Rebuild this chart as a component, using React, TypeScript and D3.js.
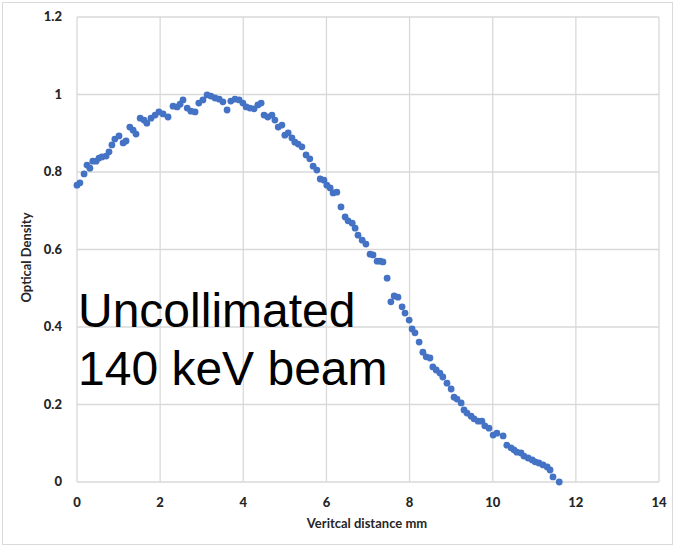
import React from "react";
import * as d3 from "d3";

const xValues = [0.0,0.07,0.17,0.24,0.31,0.38,0.46,0.53,0.60,0.70,0.77,0.84,0.91,1.01,1.11,1.18,1.27,1.35,1.42,1.52,1.61,1.68,1.78,1.88,1.97,2.07,2.19,2.31,2.41,2.48,2.55,2.65,2.74,2.84,2.93,3.03,3.13,3.22,3.32,3.42,3.51,3.61,3.70,3.80,3.90,3.99,4.07,4.16,4.26,4.35,4.43,4.50,4.59,4.69,4.76,4.84,4.93,5.00,5.08,5.17,5.24,5.32,5.41,5.51,5.60,5.68,5.77,5.85,5.94,6.01,6.09,6.16,6.25,6.35,6.45,6.52,6.62,6.69,6.76,6.86,6.95,7.05,7.12,7.22,7.29,7.36,7.46,7.55,7.63,7.72,7.82,7.89,7.99,8.06,8.13,8.23,8.32,8.40,8.49,8.56,8.64,8.73,8.80,8.90,9.00,9.07,9.14,9.24,9.31,9.38,9.48,9.55,9.65,9.74,9.81,9.91,10.01,10.10,10.25,10.34,10.44,10.51,10.58,10.68,10.75,10.85,10.95,11.02,11.11,11.21,11.31,11.38,11.45,11.60];
const yValues = [0.766,0.772,0.795,0.818,0.810,0.828,0.828,0.836,0.839,0.841,0.852,0.870,0.885,0.893,0.875,0.880,0.916,0.908,0.898,0.939,0.934,0.926,0.939,0.947,0.955,0.950,0.942,0.970,0.968,0.975,0.986,0.965,0.957,0.955,0.978,0.986,0.999,0.996,0.991,0.988,0.981,0.960,0.983,0.988,0.986,0.978,0.968,0.965,0.963,0.973,0.978,0.947,0.942,0.947,0.934,0.916,0.921,0.895,0.901,0.888,0.877,0.872,0.865,0.844,0.834,0.815,0.805,0.782,0.779,0.766,0.759,0.746,0.748,0.710,0.684,0.674,0.668,0.655,0.637,0.624,0.614,0.588,0.586,0.570,0.570,0.568,0.526,0.465,0.480,0.477,0.452,0.436,0.418,0.395,0.385,0.361,0.335,0.323,0.320,0.297,0.289,0.281,0.271,0.255,0.240,0.219,0.214,0.204,0.186,0.178,0.170,0.163,0.157,0.157,0.145,0.139,0.121,0.126,0.119,0.095,0.088,0.083,0.077,0.075,0.067,0.062,0.057,0.052,0.049,0.044,0.039,0.031,0.013,0.000];

const xTicks = [0, 2, 4, 6, 8, 10, 12, 14];
const yTicks = [0, 0.2, 0.4, 0.6, 0.8, 1, 1.2];
const xTitle = "Veritcal distance mm";
const yTitle = "Optical Density";
const annotation = ["Uncollimated", "140 keV beam"];

export default function App() {
  const W = 675, H = 547;
  const left = 77, right = 659, top = 17, bottom = 482;
  const x = d3.scaleLinear().domain([0, 14]).range([left, right]);
  const y = d3.scaleLinear().domain([0, 1.2]).range([bottom, top]);
  const font = "Lato, 'Open Sans', sans-serif";
  const points = xValues.map((v, i) => [v, yValues[i]]);
  return (
    <svg width={W} height={H} style={{ position: "absolute", left: 0, top: 0 }}>
      <rect x={0} y={0} width={W} height={H} fill="#fff" />
      <rect x={2.5} y={2.5} width={W - 5} height={H - 5} fill="none" stroke="#d9d9d9" />
      {xTicks.map((t) => (
        <line key={"gx" + t} x1={x(t)} x2={x(t)} y1={top} y2={bottom} stroke="#d9d9d9" strokeWidth={1.3} />
      ))}
      {yTicks.map((t) => (
        <line key={"gy" + t} x1={left} x2={right} y1={y(t)} y2={y(t)} stroke="#d9d9d9" strokeWidth={1.3} />
      ))}
      {xTicks.map((t) => (
        <text key={"tx" + t} x={x(t)} y={bottom + 25} textAnchor="middle" fontFamily={font} fontWeight="900" fontSize={13} fill="#262626">{t}</text>
      ))}
      {yTicks.map((t) => (
        <text key={"ty" + t} x={left - 15} y={y(t) + 4} textAnchor="end" fontFamily={font} fontWeight="900" fontSize={13} fill="#262626">{t}</text>
      ))}
      <text x={(left + right) / 2 - 1} y={528} textAnchor="middle" fontFamily={font} fontWeight="bold" fontSize={13} fill="#262626">{xTitle}</text>
      <text transform={`translate(31,${(top + bottom) / 2 + 8}) rotate(-90)`} textAnchor="middle" fontFamily={font} fontWeight="bold" fontSize={13} fill="#262626">{yTitle}</text>
      {points.map(([px, py], i) => (
        <circle key={i} cx={x(px)} cy={y(py)} r={3.4} fill="#4472C4" />
      ))}
      {annotation.map((s, i) => (
        <text key={s} x={78} y={327 + i * 58} fontFamily="'Liberation Sans', Arial, sans-serif" fontSize={48} fill="#000">{s}</text>
      ))}
    </svg>
  );
}
